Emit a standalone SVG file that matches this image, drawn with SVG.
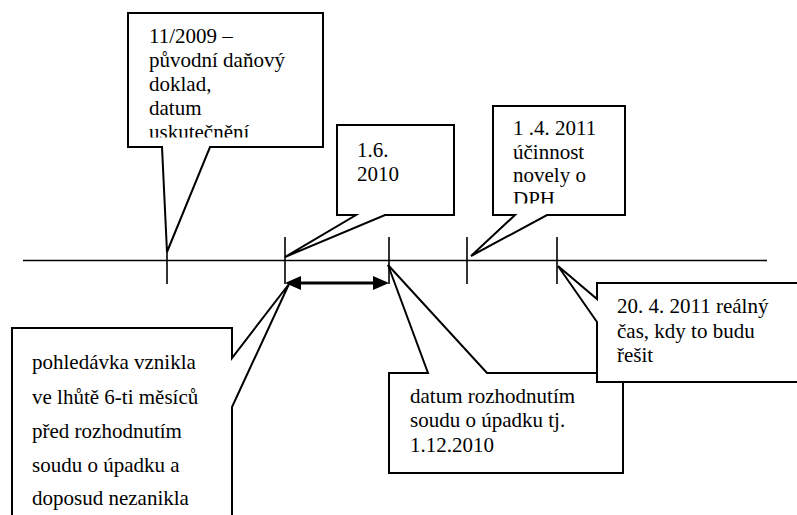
<svg xmlns="http://www.w3.org/2000/svg" width="797" height="515" viewBox="0 0 797 515">
<style>
.box{fill:#fff;stroke:#000;stroke-width:2;stroke-linejoin:miter}
.ln{stroke:#000;stroke-width:1.6;fill:none}
.t{font-family:"Liberation Serif","Times New Roman",serif;font-size:21px;fill:#000}
</style>
<defs>
<clipPath id="c1"><rect x="129" y="14" width="193" height="123.5"/></clipPath>
<clipPath id="c3"><rect x="494" y="107" width="130" height="96.5"/></clipPath>
</defs>
<rect width="797" height="515" fill="#fff"/>
<g id="connectors">
<line class="ln" x1="23" y1="260.5" x2="767" y2="260.5"/>
<line class="ln" x1="167" y1="237" x2="167" y2="284"/>
<line class="ln" x1="285" y1="237" x2="285" y2="284"/>
<line class="ln" x1="389" y1="237" x2="389" y2="284"/>
<line class="ln" x1="467" y1="237" x2="467" y2="284"/>
<line class="ln" x1="557" y1="237" x2="557" y2="284"/>
<line x1="298" y1="283" x2="376" y2="283" stroke="#000" stroke-width="3"/>
<polygon points="285,283 301,276 301,290" fill="#000"/>
<polygon points="389,283 373,276 373,290" fill="#000"/>
</g>
<g id="n1">
<path class="box" d="M128,13 H323 V147 H210 L167,252 L162,147 H128 Z"/>
<g clip-path="url(#c1)" class="t">
<text x="149" y="43">11/2009 –</text>
<text x="149" y="67">původní daňový</text>
<text x="149" y="91">doklad,</text>
<text x="149" y="115">datum</text>
<text x="149" y="139">uskutečnění</text>
</g>
</g>
<g id="n2">
<path class="box" d="M337,125 H454 V215 H385 L285,257 L356,215 H337 Z"/>
<text class="t" x="357" y="157">1.6.</text>
<text class="t" x="357" y="181">2010</text>
</g>
<g id="n3">
<path class="box" d="M493,106 H625 V215 H547 L471,256 L515,215 H493 Z"/>
<g clip-path="url(#c3)" class="t">
<text x="513" y="135">1 .4. 2011</text>
<text x="513" y="159">účinnost</text>
<text x="513" y="182">novely o</text>
<text x="513" y="206">DPH</text>
</g>
</g>
<g id="n5">
<path class="box" d="M12,328 H232 V358 L289,284 L232,407 V520 H12 Z"/>
<text class="t" x="32" y="369">pohledávka vznikla</text>
<text class="t" x="32" y="404">ve lhůtě 6-ti měsíců</text>
<text class="t" x="32" y="438">před rozhodnutím</text>
<text class="t" x="32" y="472">soudu o úpadku a</text>
<text class="t" x="32" y="505">doposud nezanikla</text>
</g>
<g id="n6">
<path class="box" d="M389,373 H428 L388,265 L487,373 H623 V473 H389 Z"/>
<text class="t" x="410" y="403">datum rozhodnutím</text>
<text class="t" x="410" y="427">soudu o úpadku tj.</text>
<text class="t" x="410" y="452">1.12.2010</text>
</g>
<g id="n4">
<path class="box" d="M597,283 H800 V382 H597 V322 L558,266 L597,299 Z"/>
<text class="t" x="617" y="313">20. 4. 2011 reálný</text>
<text class="t" x="617" y="338">čas, kdy to budu</text>
<text class="t" x="617" y="362">řešit</text>
</g>
</svg>
